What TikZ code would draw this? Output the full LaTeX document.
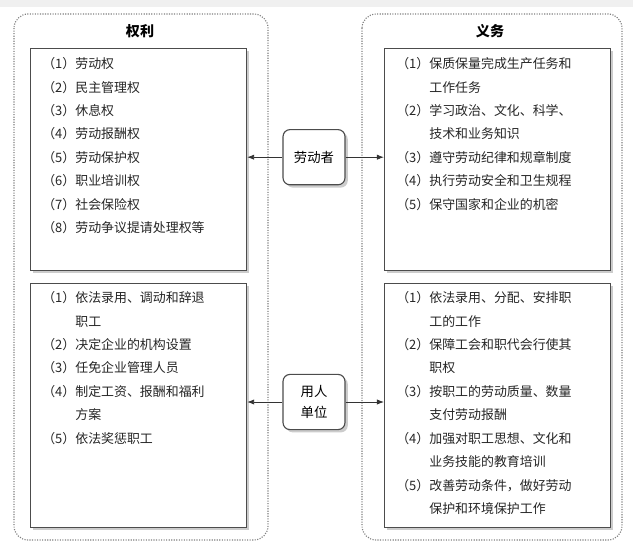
\documentclass[tikz,border=0pt]{standalone}
\usepackage{fontspec}
\setmainfont{Noto Sans CJK SC}
\usetikzlibrary{arrows.meta, shadows, positioning}
\tikzset{
  frame/.style = {draw=gray, densely dotted, rounded corners=10pt, line width=0.8pt},
  listbox/.style = {draw=black!70, fill=white, line width=0.8pt, drop shadow={shadow xshift=2pt, shadow yshift=-2pt, opacity=0.4}},
  actor/.style = {draw=black!70, fill=white, rounded corners=5pt, line width=0.8pt, minimum width=1.55cm, minimum height=1.38cm, align=center, font=\fontsize{9.5}{15}\selectfont, drop shadow={shadow xshift=2pt, shadow yshift=-2pt, opacity=0.4}},
  items/.style = {anchor=north west, align=left, inner sep=0pt, text=black!85, font=\fontsize{9.2}{16.7}\selectfont},
  link/.style = {-{Latex[length=5pt]}, black!80, line width=0.6pt}
}
\newcommand{\hang}{\phantom{（1）}}
\begin{document}
\begin{tikzpicture}
  \useasboundingbox (0,0) rectangle (15.825,-13.825);
  \fill[gray!12] (0,0) rectangle (15.825,-0.18);

  % Frames
  \draw[frame] (0.35,-0.35) rectangle (6.7,-13.5);
  \draw[frame] (9.05,-0.35) rectangle (15.55,-13.5);
  \node[font=\bfseries\fontsize{10}{12}\selectfont] (ttl) at (3.5,-0.78) {权利};
  \node[font=\bfseries\fontsize{10}{12}\selectfont] (ttr) at (12.25,-0.78) {义务};

  % Boxes
  \node[listbox, minimum width=5.4cm, minimum height=5.55cm, anchor=north west] (rtop) at (0.75,-1.2) {};
  \node[listbox, minimum width=5.4cm, minimum height=6.1cm, anchor=north west] (rbot) at (0.75,-7.07) {};
  \node[listbox, minimum width=5.65cm, minimum height=5.55cm, anchor=north west] (dtop) at (9.6,-1.2) {};
  \node[listbox, minimum width=5.65cm, minimum height=6.1cm, anchor=north west] (dbot) at (9.6,-7.07) {};

  % Lists
  \node[items] (lrt) at (1.05,-1.43) {（1）劳动权\\（2）民主管理权\\（3）休息权\\（4）劳动报酬权\\（5）劳动保护权\\（6）职业培训权\\（7）社会保险权\\（8）劳动争议提请处理权等};
  \node[items] (lrb) at (1.05,-7.28) {（1）依法录用、调动和辞退\\\hang 职工\\（2）决定企业的机构设置\\（3）任免企业管理人员\\（4）制定工资、报酬和福利\\\hang 方案\\（5）依法奖惩职工};
  \node[items] (ldt) at (9.9,-1.43) {（1）保质保量完成生产任务和\\\hang 工作任务\\（2）学习政治、文化、科学、\\\hang 技术和业务知识\\（3）遵守劳动纪律和规章制度\\（4）执行劳动安全和卫生规程\\（5）保守国家和企业的机密};
  \node[items] (ldb) at (9.9,-7.28) {（1）依法录用、分配、安排职\\\hang 工的工作\\（2）保障工会和职代会行使其\\\hang 职权\\（3）按职工的劳动质量、数量\\\hang 支付劳动报酬\\（4）加强对职工思想、文化和\\\hang 业务技能的教育培训\\（5）改善劳动条件，做好劳动\\\hang 保护和环境保护工作};

  % Parties
  \node[actor] (worker) at (7.85,-3.93) {劳动者};
  \node[actor] (employer) at (7.85,-10.05) {用人\\单位};

  % Links
  \draw[link] (worker) -- (rtop.east |- worker);
  \draw[link] (worker) -- (dtop.west |- worker);
  \draw[link] (employer) -- (rbot.east |- employer);
  \draw[link] (employer) -- (dbot.west |- employer);
\end{tikzpicture}
\end{document}
